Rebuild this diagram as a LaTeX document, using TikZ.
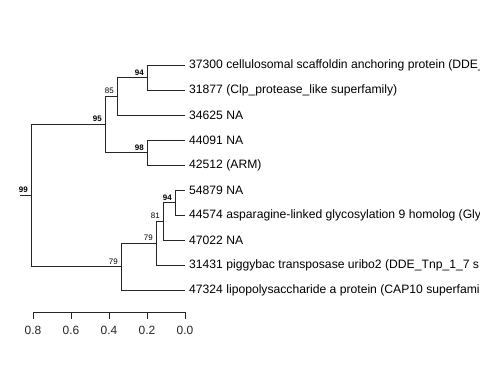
\documentclass[tikz,border=0pt]{standalone}
\usepackage{fontspec}
\setmainfont{Liberation Sans}
\usepackage{tikz}
\tikzstyle{branch} = [line width=0.7bp, black!85]
\tikzstyle{leaflab} = [anchor=west, inner xsep=4bp, inner ysep=0pt, font=\fontsize{12.2}{14}\selectfont]
\tikzstyle{boot} = [anchor=south east, inner sep=0pt, xshift=-3bp, yshift=2bp, font=\fontsize{8}{9}\selectfont]
\tikzstyle{bootb} = [boot, font=\fontsize{8}{9}\selectfont\bfseries]
\begin{document}
\begin{tikzpicture}[x=1bp,y=-1bp]
			\useasboundingbox (0,0) rectangle (480,384);
			% leaves
			\node[leaflab] (l1) at (185,65) {37300 cellulosomal scaffoldin anchoring protein (DDE\_};
			\node[leaflab] (l2) at (185,90) {31877 (Clp\_protease\_like superfamily)};
			\node[leaflab] (l3) at (185,115) {34625 NA};
			\node[leaflab] (l4) at (185,140) {44091 NA};
			\node[leaflab] (l5) at (185,165) {42512 (ARM)};
			\node[leaflab] (l6) at (185,190) {54879 NA};
			\node[leaflab] (l7) at (185,215) {44574 asparagine-linked glycosylation 9 homolog (Gly};
			\node[leaflab] (l8) at (185,240) {47022 NA};
			\node[leaflab] (l9) at (185,265) {31431 piggybac transposase uribo2 (DDE\_Tnp\_1\_7 s};
			\node[leaflab] (l10) at (185,290) {47324 lipopolysaccharide a protein (CAP10 superfamil};
			% inner nodes
			\coordinate (s) at (20,195);
			\coordinate (r) at (31,195);
			\coordinate (a95) at (105,124);
			\coordinate (a85) at (117,96);
			\coordinate (a94) at (147,77.5);
			\coordinate (a98) at (147,152.5);
			\coordinate (b79) at (121,266.5);
			\coordinate (c79) at (156,243);
			\coordinate (d81) at (163,221);
			\coordinate (e94) at (175,202.5);
			\draw[branch] (s) -- (r);
			\foreach \p/\c in {r/a95, r/b79, a95/a85, a95/a98, a85/a94, a85/l3.west,
				a94/l1.west, a94/l2.west, a98/l4.west, a98/l5.west,
				b79/c79, b79/l10.west, c79/d81, c79/l9.west, d81/e94, d81/l8.west,
				e94/l6.west, e94/l7.west}
				\draw[branch] (\p) |- (\c);
			% support values
			\node[bootb] at (r) {99};
			\node[bootb] at (a95) {95};
			\node[boot] at (a85) {85};
			\node[bootb] at (a94) {94};
			\node[bootb] at (a98) {98};
			\node[boot] at (b79) {79};
			\node[boot] at (c79) {79};
			\node[boot] at (d81) {81};
			\node[bootb] at (e94) {94};
			% scale
			\coordinate (ax0) at (33,312);
			\coordinate (ax1) at (185,312);
			\draw[branch] (ax0) -- (ax1);
			\foreach \i/\v in {0/0.8, 1/0.6, 2/0.4, 3/0.2, 4/0.0}
				\draw[branch] (33+38*\i,312) -- (33+38*\i,319) node[below=7bp, inner sep=0pt, font=\fontsize{12}{14}\selectfont] {\v};
		\end{tikzpicture}
\end{document}
